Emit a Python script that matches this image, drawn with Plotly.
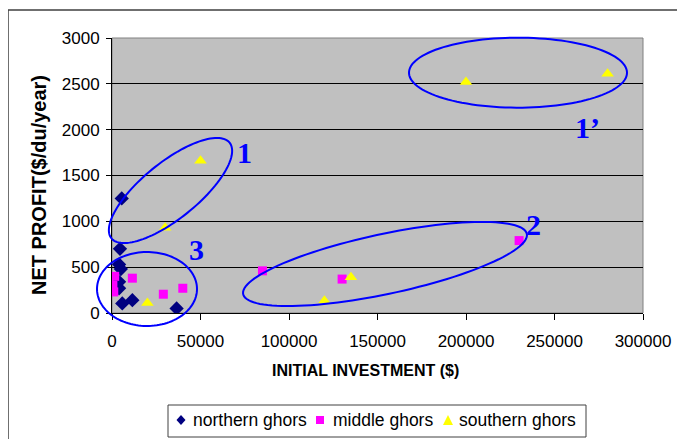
import numpy as np
import plotly.graph_objects as go

# ---------------- data ----------------
north_x = [5500, 4500, 4000, 5000, 4000, 4000, 5800, 11500, 36500]
north_y = [1250, 700, 530, 480, 340, 270, 105, 140, 50]

middle_x = [1500, 11500, 500, 1000, 29000, 40000, 85000, 130000, 230000]
middle_y = [400, 380, 300, 230, 205, 270, 460, 370, 790]

south_x = [50000, 30000, 20000, 120000, 135000, 200000, 280000]
south_y = [1660, 930, 110, 135, 390, 2520, 2610]

x_ticks = [0, 50000, 100000, 150000, 200000, 250000, 300000]
y_ticks = [0, 500, 1000, 1500, 2000, 2500, 3000]

series_names = ["northern ghors", "middle ghors", "southern ghors"]
series_colors = ["#000080", "#FF00FF", "#FFFF00"]

# ---------------- layout geometry ----------------
W, H = 685, 439
OFF = 8  # page body margin
L, R, T, B = 104, 50, 30, 134
PW, PH = W - L - R, H - T - B


def to_paper(px, py):
    """screen pixel -> paper coordinates"""
    return (px - OFF - L) / PW, (H - B - (py - OFF)) / PH


def ellipse_path(cx, cy, a, b, deg):
    th = np.deg2rad(deg)
    t = np.linspace(0, 2 * np.pi, 120)
    ux, uy = np.cos(th), -np.sin(th)
    vx, vy = np.sin(th), np.cos(th)
    px = cx + a * np.cos(t) * ux + b * np.sin(t) * vx
    py = cy + a * np.cos(t) * uy + b * np.sin(t) * vy
    pts = [to_paper(x, y) for x, y in zip(px, py)]
    return "M " + " L ".join(f"{x:.5f},{y:.5f}" for x, y in pts) + " Z"


def poly_path(pts):
    pp = [to_paper(x, y) for x, y in pts]
    return "M " + " L ".join(f"{x:.5f},{y:.5f}" for x, y in pp) + " Z"


FONT = "Liberation Sans, Arial, sans-serif"
BLUE = "#0000FF"

fig = go.Figure()
fig.add_trace(go.Scatter(x=north_x, y=north_y, mode="markers", name=series_names[0],
                         marker=dict(symbol="diamond", size=11, color=series_colors[0])))
fig.add_trace(go.Scatter(x=middle_x, y=middle_y, mode="markers", name=series_names[1],
                         marker=dict(symbol="square", size=9, color=series_colors[1])))
fig.add_trace(go.Scatter(x=south_x, y=south_y, mode="markers", name=series_names[2],
                         marker=dict(symbol="triangle-up", size=11, color=series_colors[2])))

shapes = []
# chart outer border (cut off at right/bottom like the reference)
x0, y0 = to_paper(8, 10)
x1, y1 = to_paper(720, 470)
shapes.append(dict(type="rect", xref="paper", yref="paper", x0=x0, y0=y1, x1=x1, y1=y0,
                   line=dict(color="#404040", width=1.5), layer="below"))
# plot area border
shapes.append(dict(type="rect", xref="paper", yref="paper", x0=0, y0=0, x1=1, y1=1,
                   line=dict(color="#808080", width=1), layer="below"))
# highlight ellipses
for (cx, cy, a, b, deg) in [(170.5, 190.5, 76, 28, 39),
                            (385, 264, 145, 30, 12),
                            (147, 289, 50, 37, 0),
                            (518, 72.7, 109, 35, 0)]:
    shapes.append(dict(type="path", xref="paper", yref="paper",
                       path=ellipse_path(cx, cy, a, b, deg),
                       line=dict(color=BLUE, width=2), layer="above"))

# custom legend box
lx0, ly0 = to_paper(168, 405)
lx1, ly1 = to_paper(586, 437)
shapes.append(dict(type="rect", xref="paper", yref="paper", x0=lx0, y0=ly1, x1=lx1, y1=ly0,
                   line=dict(color="#404040", width=1), fillcolor="white", layer="above"))
leg_y = 420
# legend symbols
shapes.append(dict(type="path", xref="paper", yref="paper",
                   path=poly_path([(181, leg_y - 5), (185.5, leg_y), (181, leg_y + 5), (176.5, leg_y)]),
                   fillcolor=series_colors[0], line=dict(width=0), layer="above"))
shapes.append(dict(type="path", xref="paper", yref="paper",
                   path=poly_path([(316, leg_y - 4), (324, leg_y - 4), (324, leg_y + 4), (316, leg_y + 4)]),
                   fillcolor=series_colors[1], line=dict(width=0), layer="above"))
shapes.append(dict(type="path", xref="paper", yref="paper",
                   path=poly_path([(448, leg_y - 5), (453, leg_y + 5), (443, leg_y + 5)]),
                   fillcolor=series_colors[2], line=dict(width=0), layer="above"))

annotations = []
for name, px in zip(series_names, [191, 331, 457]):
    ax_, ay_ = to_paper(px, leg_y)
    annotations.append(dict(text=name, x=ax_, y=ay_, xref="paper", yref="paper",
                            showarrow=False, xanchor="left", yanchor="middle",
                            font=dict(family=FONT, size=17.5, color="black")))

for txt, (px, py) in [("1", (244, 152)), ("1\u2019", (587, 127)),
                      ("2", (533, 224)), ("3", (196, 249))]:
    ax_, ay_ = to_paper(px, py)
    annotations.append(dict(text=f"<b>{txt}</b>", x=ax_, y=ay_, xref="paper", yref="paper",
                            showarrow=False, xanchor="center", yanchor="middle",
                            font=dict(family="Liberation Serif, Times New Roman, serif",
                                      size=30, color=BLUE)))
tx, ty = to_paper(365, 370)
annotations.append(dict(text="<b>INITIAL INVESTMENT ($)</b>", x=tx, y=ty, xref="paper", yref="paper",
                        showarrow=False, xanchor="center", yanchor="middle",
                        font=dict(family=FONT, size=16, color="black")))
tx, ty = to_paper(39, 185)
annotations.append(dict(text="<b>NET PROFIT($/du/year)</b>", x=tx, y=ty, xref="paper", yref="paper",
                        showarrow=False, xanchor="center", yanchor="middle", textangle=-90,
                        font=dict(family=FONT, size=20, color="black")))

fig.update_layout(
    width=W, height=H,
    margin=dict(l=L, r=R, t=T, b=B),
    paper_bgcolor="white", plot_bgcolor="#C0C0C0",
    font=dict(family=FONT, size=17, color="black"),
    showlegend=False,
    shapes=shapes, annotations=annotations,
    xaxis=dict(range=[0, 300000], tickvals=x_ticks, ticktext=[str(v) for v in x_ticks],
               showgrid=False, zeroline=False, showline=True, linecolor="black", linewidth=1,
               ticks="outside", ticklen=6, tickcolor="black", tickfont=dict(size=17),
               ticklabelstandoff=7),
    yaxis=dict(range=[0, 3000], tickvals=y_ticks, ticktext=[str(v) for v in y_ticks],
               showgrid=True, gridcolor="black", gridwidth=1, zeroline=False,
               showline=True, linecolor="black", linewidth=1,
               ticks="outside", ticklen=5, tickcolor="black", tickfont=dict(size=17),
               ticklabelstandoff=3),
)

fig.write_html("out.html")
